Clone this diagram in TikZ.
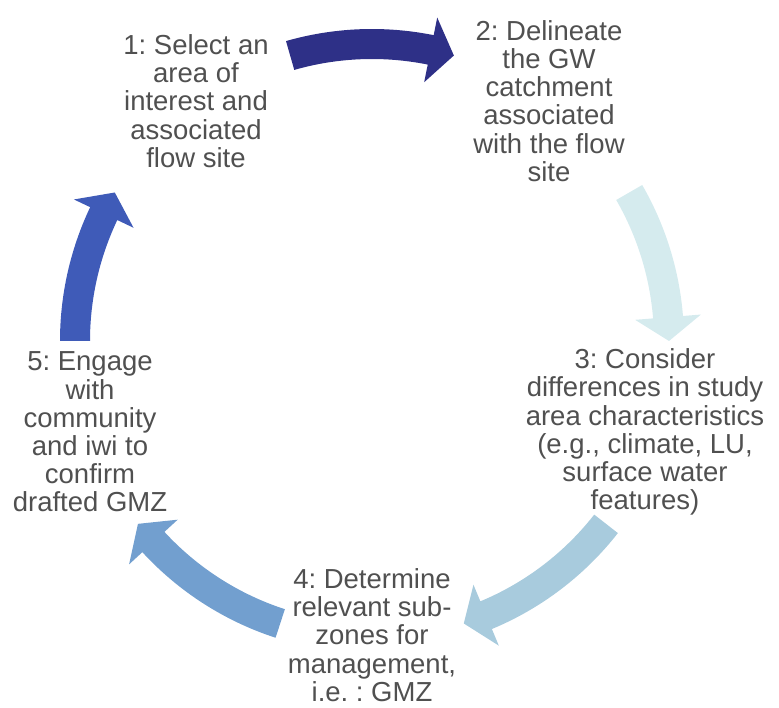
\documentclass[tikz,border=0pt]{standalone}
\usepackage{fontspec}
\setmainfont{Liberation Sans}
\frenchspacing
\usetikzlibrary{calc}
\definecolor{txt}{HTML}{505050}
\definecolor{arA}{HTML}{2E3087}
\definecolor{arB}{HTML}{D5EBEE}
\definecolor{arC}{HTML}{A8CBDD}
\definecolor{arD}{HTML}{729FCF}
\definecolor{arE}{HTML}{3F5BB8}
\newcommand{\cycarrow}[3]{%
  \pgfmathsetmacro{\ah}{#2+4.6}%
  \fill[#3] (#1:312) arc[start angle=#1, end angle=\ah, radius=312]
    -- (\ah:330) -- (#2:297) -- (\ah:264) -- (\ah:282)
    arc[start angle=\ah, end angle=#1, radius=282] -- cycle;}
\tikzset{steptext/.style={text=txt, align=center, inner sep=0pt,
  font=\fontsize{27.5}{28.2}\selectfont\frenchspacing}}
\begin{document}
\begin{tikzpicture}[x=1pt,y=1pt]
\useasboundingbox (0,0) rectangle (779,707);
\begin{scope}[shift={(372,366)}]
  \cycarrow{106}{74}{arA}
  \cycarrow{30}{0}{arB}
  \cycarrow{-38}{-72}{arC}
  \cycarrow{-108}{-142}{arD}
  \cycarrow{180}{150}{arE}
\end{scope}
\node[steptext] (n1) at (196,606) {1: Select an\\area of\\interest and\\associated\\flow site};
\node[steptext] (n2) at (549,606) {2: Delineate\\the GW\\catchment\\associated\\with the flow\\site};
\node[steptext] (n3) at (645,275) {3: Consider\\differences in study\\area characteristics\\(e.g., climate, LU,\\surface water\\features)};
\node[steptext] (n4) at (372,72) {4: Determine\\relevant sub-\\zones for\\management,\\i.e. : GMZ};
\node[steptext] (n5) at (90,275) {5: Engage\\with\\community\\and iwi to\\confirm\\drafted GMZ};
\end{tikzpicture}
\end{document}
